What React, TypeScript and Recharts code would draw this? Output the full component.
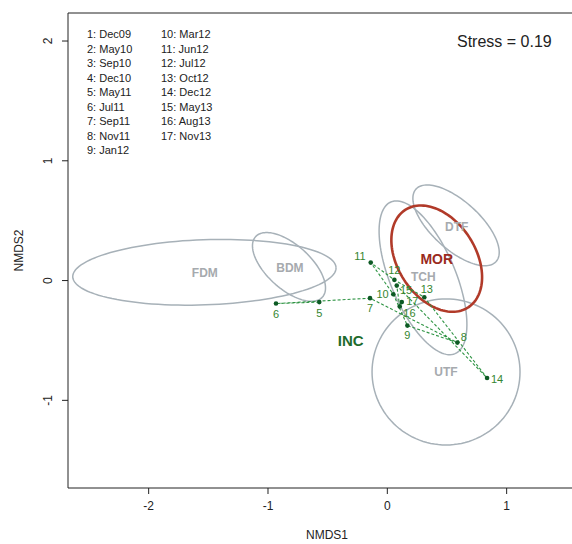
import { ScatterChart, Scatter, XAxis, YAxis, ReferenceLine } from 'recharts';

// sampling dates plotted on the ordination (1-4 fall outside the window)
const sampleIds = ['5', '6', '7', '8', '9', '10', '11', '12', '13', '14', '15', '16', '17'];
const nmds1 = [-0.570, -0.933, -0.145, 0.587, 0.168, 0.050, -0.139, 0.059, 0.310, 0.836, 0.079, 0.104, 0.121];
const nmds2 = [-0.180, -0.192, -0.147, -0.518, -0.376, -0.114, 0.150, 0.006, -0.139, -0.813, -0.042, -0.217, -0.180];

const legendCol1 = ['1: Dec09', '2: May10', '3: Sep10', '4: Dec10', '5: May11', '6: Jul11', '7: Sep11', '8: Nov11', '9: Jan12'];
const legendCol2 = ['10: Mar12', '11: Jun12', '12: Jul12', '13: Oct12', '14: Dec12', '15: May13', '16: Aug13', '17: Nov13'];
const stressText = 'Stress = 0.19';

// group ellipses: centre, semi axes and rotation (degrees), in NMDS units
const groupNames = ['FDM', 'BDM', 'TCH', 'DTF', 'UTF', 'MOR'];
const groupCx = [-1.533, -0.824, 0.299, 0.576, 0.492, 0.414];
const groupCy = [0.069, 0.114, 0.023, 0.461, -0.763, 0.183];
const groupSemiA = [1.104, 0.377, 0.688, 0.452, 0.620, 0.485];
const groupSemiB = [0.272, 0.184, 0.273, 0.201, 0.610, 0.326];
const groupAngle = [2, -42, -67, -42, 0, -57];

const tagNames = ['FDM', 'BDM', 'TCH', 'DTF', 'UTF', 'MOR', 'INC'];
const tagX = [-1.529, -0.816, 0.302, 0.582, 0.492, 0.414, -0.307];
const tagY = [0.064, 0.106, 0.032, 0.451, -0.760, 0.179, -0.501];

const xTicks = [-2, -1, 0, 1];
const yTicks = [-1, 0, 1, 2];
const xDomain = [-2.676, 1.665];
const yDomain = [-1.732, 2.234];

// label offsets in px, per sample
const labelOffsets: Record<string, [number, number]> = {
  '5': [0, 10.5], '6': [0, 10], '7': [0, 10], '8': [6.5, -6], '9': [0, 9.5],
  '10': [-10.7, 0], '11': [-10.7, -6.7], '12': [0, -10], '13': [2.5, -8],
  '14': [10, 1], '15': [9.3, 4.3], '16': [9.7, 6.5], '17': [10.5, -1.5],
};

const FONT = '"Liberation Sans", Arial, Helvetica, sans-serif';
const AXIS = '#222';
const GREY = '#a7b1b8';
const GREEN_DOT = '#0d5a24';
const GREEN_LINE = '#2f9444';
const GREEN_TEXT = '#35862f';

const samples = sampleIds.map((id, i) => ({ x: nmds1[i], y: nmds2[i], id }));

function ellipsePoints(i: number) {
  const t = (groupAngle[i] * Math.PI) / 180;
  const pts = [];
  for (let k = 0; k <= 120; k++) {
    const s = (k / 120) * 2 * Math.PI;
    const ex = groupSemiA[i] * Math.cos(s);
    const ey = groupSemiB[i] * Math.sin(s);
    pts.push({
      x: groupCx[i] + ex * Math.cos(t) - ey * Math.sin(t),
      y: groupCy[i] + ex * Math.sin(t) + ey * Math.cos(t),
    });
  }
  return pts;
}

const tags = tagNames.map((name, i) => ({ x: tagX[i], y: tagY[i], name }));

function tagStyle(name: string) {
  if (name === 'MOR') return { fill: '#9a2a1e', fontSize: 14 };
  if (name === 'INC') return { fill: '#1e6b2c', fontSize: 15 };
  return { fill: '#a6aaae', fontSize: 12 };
}

const SampleDot = (props: any) => {
  const { cx, cy, payload } = props;
  const [dx, dy] = labelOffsets[payload.id] || [0, 10];
  return (
    <g>
      <circle cx={cx} cy={cy} r={2.3} fill={GREEN_DOT} />
      <text x={cx + dx} y={cy + dy} textAnchor="middle" dominantBaseline="central" fontSize={11} fill={GREEN_TEXT}>
        {payload.id}
      </text>
    </g>
  );
};

const TagText = (props: any) => {
  const { cx, cy, payload } = props;
  const st = tagStyle(payload.name);
  return (
    <text x={cx} y={cy} textAnchor="middle" dominantBaseline="central" fontWeight="bold" fontSize={st.fontSize} fill={st.fill}>
      {payload.name}
    </text>
  );
};

const YTick = (props: any) => {
  const { x, y, payload } = props;
  const tx = x - 12;
  return (
    <text x={tx} y={y} transform={`rotate(-90 ${tx} ${y})`} textAnchor="middle" dominantBaseline="central" fontSize={12} fill={AXIS}>
      {payload.value}
    </text>
  );
};

export default function App() {
  return (
    <div style={{ position: 'absolute', left: 0, top: 0, width: 572, height: 544, overflow: 'hidden', background: '#fff', fontFamily: FONT }}>
      <ScatterChart width={586} height={544} margin={{ top: 13, right: 0, bottom: 0, left: 0 }} style={{ fontFamily: FONT }}>
        <XAxis
          type="number"
          dataKey="x"
          domain={xDomain}
          ticks={xTicks}
          allowDataOverflow
          height={56}
          stroke={AXIS}
          tickSize={6}
          tickMargin={7}
          tick={{ fontSize: 12, fill: AXIS }}
          label={{
            content: ({ viewBox }: any) => (
              <text x={viewBox.x + viewBox.width / 2} y={viewBox.y + 47} textAnchor="middle" dominantBaseline="central" fontSize={12} fill={AXIS}>
                NMDS1
              </text>
            ),
          }}
        />
        <YAxis
          type="number"
          dataKey="y"
          domain={yDomain}
          ticks={yTicks}
          allowDataOverflow
          width={68}
          stroke={AXIS}
          tickSize={6}
          tick={<YTick />}
          label={{
            content: ({ viewBox }: any) => {
              const lx = viewBox.x + 19;
              const ly = viewBox.y + viewBox.height / 2;
              return (
                <text x={lx} y={ly} transform={`rotate(-90 ${lx} ${ly})`} textAnchor="middle" dominantBaseline="central" fontSize={12} fill={AXIS}>
                  NMDS2
                </text>
              );
            },
          }}
        />
        <ReferenceLine y={yDomain[1]} stroke={AXIS} strokeWidth={1} />

        {groupNames.map((name, i) => (
          <Scatter
            key={name}
            data={ellipsePoints(i)}
            line={{ stroke: name === 'MOR' ? '#b13a29' : GREY, strokeWidth: name === 'MOR' ? 2.6 : 1.5 }}
            lineType="joint"
            shape={() => <g />}
            isAnimationActive={false}
          />
        ))}

        <Scatter data={tags} shape={<TagText />} isAnimationActive={false} />

        <Scatter
          data={samples}
          line={{ stroke: GREEN_LINE, strokeWidth: 1.1, strokeDasharray: '3 2' }}
          lineType="joint"
          shape={<SampleDot />}
          isAnimationActive={false}
        />
      </ScatterChart>

      <div style={{ position: 'absolute', left: 87, top: 27, fontSize: 11, lineHeight: '14.5px', color: AXIS }}>
        {legendCol1.map((t) => (
          <div key={t}>{t}</div>
        ))}
      </div>
      <div style={{ position: 'absolute', left: 161, top: 27, fontSize: 11, lineHeight: '14.5px', color: AXIS }}>
        {legendCol2.map((t) => (
          <div key={t}>{t}</div>
        ))}
      </div>
      <div style={{ position: 'absolute', left: 457, top: 32, fontSize: 16, lineHeight: '20px', color: AXIS }}>
        {stressText}
      </div>
    </div>
  );
}
